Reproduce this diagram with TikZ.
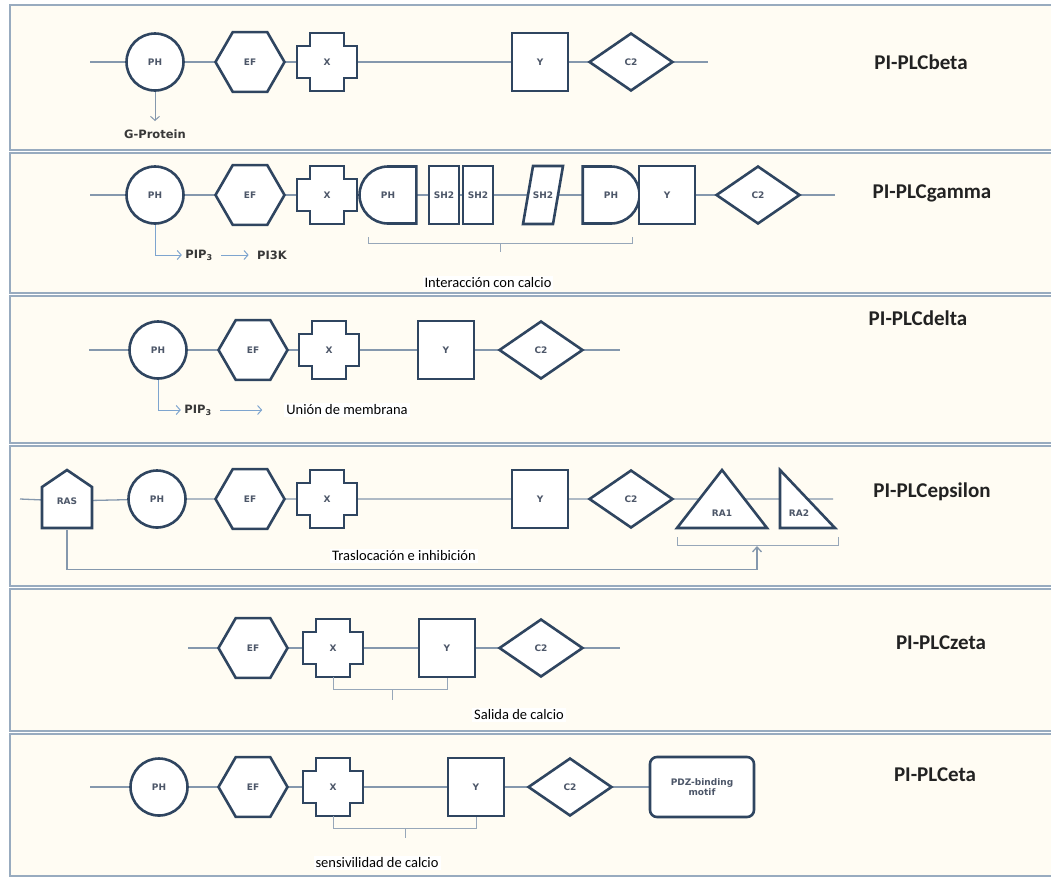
\documentclass[tikz,border=0pt]{standalone}
\usepackage{fontspec}
\setmainfont{Carlito}
\newfontfamily\domfont{DejaVu Sans}
\usetikzlibrary{shapes.geometric,shapes.misc,backgrounds,arrows.meta}
\pgfdeclarelayer{panels}
\pgfsetlayers{panels,background,main}
\definecolor{panelline}{HTML}{98ABBF}
\definecolor{panelfill}{HTML}{FFFCF3}
\definecolor{domline}{HTML}{2F4560}
\definecolor{linkline}{HTML}{8598AD}
\definecolor{hintblue}{HTML}{7EA5CF}
\definecolor{domtext}{HTML}{4C5668}
\definecolor{labeltext}{HTML}{222222}
\begin{document}
\begin{tikzpicture}[x=1pt,y=-1pt,
  panel/.style={draw=panelline,line width=1.6pt,fill=panelfill},
  dom/.style={draw=domline,line width=2.6pt,fill=white,inner sep=0pt,text=domtext,font=\domfont\bfseries\fontsize{9}{10}\selectfont},
  phdom/.style={dom,circle,minimum size=57pt},
  efdom/.style={dom,regular polygon,regular polygon sides=6,minimum size=69pt},
  ydom/.style={dom,rectangle,minimum width=56pt,minimum height=58pt},
  c2dom/.style={dom,diamond,minimum width=84pt,minimum height=58pt},
  halfdom/.style={dom,rounded rectangle,minimum width=42pt,minimum height=57pt},
  shdom/.style={dom,rectangle,minimum width=30pt,minimum height=58pt},
  pdzdom/.style={dom,rounded corners=7pt,minimum width=104pt,minimum height=60pt,align=center},
  plain/.style={inner sep=0pt,text=domtext,font=\domfont\bfseries\fontsize{9}{10}\selectfont,minimum height=58pt},
  outline/.style={draw=domline,line width=2.6pt,fill=white},
  link/.style={draw=linkline,line width=1.3pt},
  brace/.style={draw=linkline!85,line width=1pt},
  family/.style={font=\bfseries\fontsize{21}{24}\selectfont,text=labeltext},
  note/.style={font=\fontsize{14.5}{17}\selectfont,fill=white,inner sep=2pt},
  tag/.style={font=\domfont\bfseries\fontsize{11.5}{13}\selectfont,text=labeltext!90},
  hint/.style={draw=hintblue,line width=1pt,-{Straight Barb[length=4pt,width=9pt]}},
  crossdom/.pic={\draw[outline] (-17,-29) -- (17,-29) -- (17,-16) -- (30,-16) -- (30,16) -- (17,16) -- (17,29) -- (-17,29) -- (-17,16) -- (-30,16) -- (-30,-16) -- (-17,-16) -- cycle;},
  housedom/.pic={\draw[outline] (-25,29) -- (-25,-12) -- (0,-29) -- (25,-12) -- (25,29) -- cycle;},
  tridom/.pic={\draw[outline] (-45,29) -- (0,-29) -- (45,29) -- cycle;},
  rtridom/.pic={\draw[outline] (-27,-29) -- (28,29) -- (-27,29) -- cycle;},
  paradom/.pic={\draw[outline] (-20,29) -- (-10,-29) -- (20,-29) -- (10,29) -- cycle;}
]
\useasboundingbox (0,0) rectangle (1051,879);
\begin{pgfonlayer}{panels}
\fill[white] (0,0) rectangle (1051,879);
\foreach \a/\b in {5/150,153/293,296/443,446/586,589/731,734/876}
  \draw[panel] (10,\a) rectangle (1075,\b);
\end{pgfonlayer}

\coordinate (b0) at (90,62);
\coordinate (b1) at (708,62);
\node[phdom] (bph) at (155,62) {PH};
\node[efdom] (bef) at (250,62) {EF};
\pic at (327,62) {crossdom};
\node[plain] (bx) at (327,62) {X};
\node[ydom] (by) at (540,62) {Y};
\node[c2dom] (bc2) at (631,62) {C2};
\node[family] (bname) at (921,62) {PI-PLCbeta};
\node[tag] (bgp) at (155,134) {G-Protein};
\draw[hint,draw=linkline,shorten >=5pt] (bph) -- (bgp);
\begin{pgfonlayer}{background}
\draw[link] (b0) -- (bph.center) -- (bef.center) -- (bx.center) -- (by.center) -- (bc2.center) -- (b1);
\end{pgfonlayer}

\coordinate (g0) at (90,195);
\coordinate (g1) at (835,195);
\node[phdom] (gph) at (155,195) {PH};
\node[efdom] (gef) at (250,195) {EF};
\pic at (327,195) {crossdom};
\node[plain] (gx) at (327,195) {X};
\node[halfdom,rounded rectangle right arc=none] (gpl) at (388,195) {PH};
\node[shdom] (gsa) at (444,195) {SH2};
\node[shdom] (gsb) at (478,195) {SH2};
\pic at (543,195) {paradom};
\node[plain] (gsc) at (543,195) {SH2};
\node[halfdom,rounded rectangle left arc=none] (gpr) at (611,195) {PH};
\node[ydom] (gy) at (667,195) {Y};
\node[c2dom] (gc2) at (758,195) {C2};
\node[family] (gname) at (932,193) {PI-PLCgamma};
\node[tag] (gpip) at (199,255) {PIP\textsubscript{3}};
\node[tag] (gpik) at (272,255) {PI3K};
\draw[hint] (gph.south) |- (gpip.west);
\draw[hint,shorten <=5pt,shorten >=5pt] (gpip) -- (gpik);
\draw[brace] (368,237) -- (368,243) -- (632,243) -- (632,237);
\draw[brace] (500,243) -- (500,252);
\node[note] (gnote) at (488,283) {Interacción con calcio};
\begin{pgfonlayer}{background}
\draw[link] (g0) -- (gph.center) -- (gef.center) -- (gx.center) -- (gpl.center) -- (gsa.center) -- (gsb.center) -- (gsc.center) -- (gpr.center) -- (gy.center) -- (gc2.center) -- (g1);
\end{pgfonlayer}

\coordinate (d0) at (89,350);
\coordinate (d1) at (620,350);
\node[phdom] (dph) at (158,350) {PH};
\node[efdom] (def) at (253,350) {EF};
\pic at (329,350) {crossdom};
\node[plain] (dx) at (329,350) {X};
\node[ydom] (dy) at (446,350) {Y};
\node[c2dom] (dc2) at (541,350) {C2};
\node[family] (dname) at (918,318) {PI-PLCdelta};
\node[tag] (dpip) at (198,410) {PIP\textsubscript{3}};
\node[note] (dmem) at (347,410) {Unión de membrana};
\draw[hint] (dph.south) |- (dpip.west);
\draw[hint,shorten <=5pt,shorten >=22pt] (dpip) -- (dmem);
\begin{pgfonlayer}{background}
\draw[link] (d0) -- (dph.center) -- (def.center) -- (dx.center) -- (dy.center) -- (dc2.center) -- (d1);
\end{pgfonlayer}

\coordinate (e0) at (20,499);
\coordinate (e1) at (833,499);
\pic at (67,499) {housedom};
\node[plain,minimum width=50pt] (eras) at (67,501) {RAS};
\node[phdom] (eph) at (157,499) {PH};
\node[efdom] (eef) at (250,499) {EF};
\pic at (327,499) {crossdom};
\node[plain] (ex) at (327,499) {X};
\node[ydom] (ey) at (540,499) {Y};
\node[c2dom] (ec2) at (631,499) {C2};
\pic at (722,499) {tridom};
\node[plain,minimum height=0pt] (era1) at (722,513) {RA1};
\pic at (807,499) {rtridom};
\node[plain,minimum height=0pt] (era2) at (799,513) {RA2};
\node[family] (ename) at (932,492) {PI-PLCepsilon};
\draw[brace] (677,537) -- (677,545) -- (838,545) -- (838,537);
\coordinate (ebr) at (757,546);
\node[note] (enote) at (404,556) {Traslocación e inhibición};
\draw[link,-{Straight Barb[length=5pt,width=9pt]}] (eras.south) -- ++(0,39) -| (ebr);
\begin{pgfonlayer}{background}
\draw[link] (e0) -- (eras.center) -- (eph.center) -- (eef.center) -- (ex.center) -- (ey.center) -- (ec2.center) -- (e1);
\end{pgfonlayer}

\coordinate (z0) at (188,648);
\coordinate (z1) at (620,648);
\node[efdom] (zef) at (253,648) {EF};
\pic at (333,648) {crossdom};
\node[plain] (zx) at (333,648) {X};
\node[ydom] (zy) at (447,648) {Y};
\node[c2dom] (zc2) at (541,648) {C2};
\node[family] (zname) at (941,643) {PI-PLCzeta};
\draw[brace] (zx.south) -- ++(0,12) -| (zy.south);
\draw[brace] (392,689) -- (392,700);
\node[note] (znote) at (519,715) {Salida de calcio};
\begin{pgfonlayer}{background}
\draw[link] (z0) -- (zef.center) -- (zx.center) -- (zy.center) -- (zc2.center) -- (z1);
\end{pgfonlayer}

\coordinate (h0) at (90,787);
\node[phdom] (hph) at (159,787) {PH};
\node[efdom] (hef) at (253,787) {EF};
\pic at (333,787) {crossdom};
\node[plain] (hx) at (333,787) {X};
\node[ydom] (hy) at (476,787) {Y};
\node[c2dom] (hc2) at (570,787) {C2};
\node[pdzdom] (hpdz) at (702,787) {PDZ-binding\\motif};
\node[family] (hname) at (935,775) {PI-PLCeta};
\draw[brace] (hx.south) -- ++(0,12) -| (hy.south);
\draw[brace] (405,828) -- (405,838);
\node[note] (hnote) at (377,863) {sensivilidad de calcio};
\begin{pgfonlayer}{background}
\draw[link] (h0) -- (hph.center) -- (hef.center) -- (hx.center) -- (hy.center) -- (hc2.center) -- (hpdz.center);
\end{pgfonlayer}
\end{tikzpicture}
\end{document}
